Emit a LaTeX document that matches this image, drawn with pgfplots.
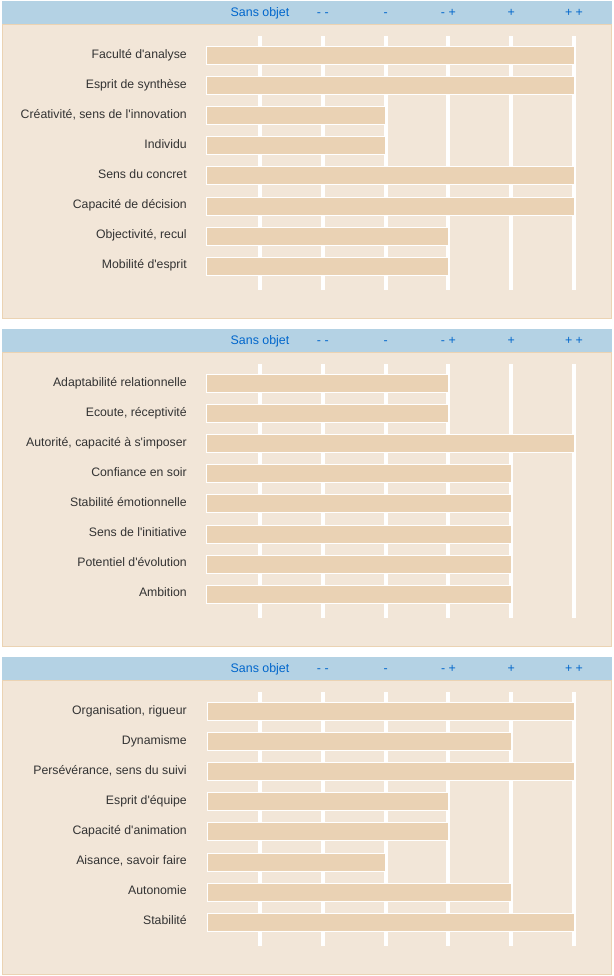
\documentclass[border=0pt]{standalone}
\usepackage{fontspec}
\setmainfont{Liberation Sans}
\usepackage{pgfplots}
\pgfplotsset{compat=1.18}

\definecolor{hdr}{HTML}{B4D2E4}
\definecolor{hdrtxt}{HTML}{0066CC}
\definecolor{bodybg}{HTML}{F2E6D8}
\definecolor{edge}{HTML}{EBD3B3}
\definecolor{barfill}{HTML}{EAD2B4}
\definecolor{lbl}{HTML}{333333}
\newcommand\q{\textquotesingle}

% levels: 1 = Sans objet, 2 = - -, 3 = -, 4 = - +, 5 = +, 6 = + +
\pgfplotsset{
  panel/.style={
    anchor=north west,
    scale only axis, width=292.5pt, height=190.5pt,
    xmin=0, xmax=6.21, ymin=0.352, ymax=8.79, y dir=reverse,
    clip=false,
    axis line style={draw=none}, tick style={draw=none}, major tick length=0pt,
    xtick={0.844,1.844,2.844,3.844,4.844,5.844},
    xticklabels={Sans objet,- -,-,- +,+,+ +},
    xticklabel pos=upper,
    xticklabel style={anchor=base, inner sep=0pt, yshift=14.6pt, text=hdrtxt,
      font=\fontsize{9.3pt}{11pt}\selectfont},
    ytick={1,...,8},
    yticklabel style={anchor=base east, inner sep=0pt, xshift=-15pt, yshift=-2pt,
      text=lbl, font=\fontsize{9.2pt}{11pt}\selectfont},
    xmajorgrids, grid style={white, line width=3pt},
    xbar, bar width=13.5pt,
  },
  lvl/.style={fill=barfill, draw=white, line width=0.75pt,
    x filter/.expression={x-0.156}},
}

\begin{document}
\begin{tikzpicture}
\begin{scope}[x=0.75pt, y=-0.75pt]
  \useasboundingbox (0,0) rectangle (614,976);
  \foreach \o in {0,328,656} {
    \draw[fill=bodybg, draw=edge, line width=0.75pt] (2.5,24+\o) rectangle (611.5,318.5+\o);
    \fill[hdr] (2,1+\o) rectangle (612,24+\o);
  }
\end{scope}

\begin{axis}[panel, at={(155.25pt,-27pt)},
  yticklabels={Faculté d\q analyse, Esprit de synthèse, {Créativité, sens de l\q innovation},
    Individu, Sens du concret, Capacité de décision, {Objectivité, recul}, Mobilité d\q esprit}]
  \addplot[lvl] coordinates {(6,1) (6,2) (3,3) (3,4) (6,5) (6,6) (4,7) (4,8)};
\end{axis}

\begin{axis}[panel, at={(155.25pt,-273pt)},
  yticklabels={Adaptabilité relationnelle, {Ecoute, réceptivité}, {Autorité, capacité à s\q imposer},
    Confiance en soir, Stabilité émotionnelle, Sens de l\q initiative, Potentiel d\q évolution, Ambition}]
  \addplot[lvl] coordinates {(4,1) (4,2) (6,3) (5,4) (5,5) (5,6) (5,7) (5,8)};
\end{axis}

\begin{axis}[panel, at={(155.25pt,-519pt)},
  yticklabels={{Organisation, rigueur}, Dynamisme, {Persévérance, sens du suivi}, Esprit d\q équipe,
    Capacité d\q animation, {Aisance, savoir faire}, Autonomie, Stabilité}]
  \addplot[lvl] coordinates {(6,1) (5,2) (6,3) (4,4) (4,5) (3,6) (5,7) (6,8)};
\end{axis}
\end{tikzpicture}
\end{document}
